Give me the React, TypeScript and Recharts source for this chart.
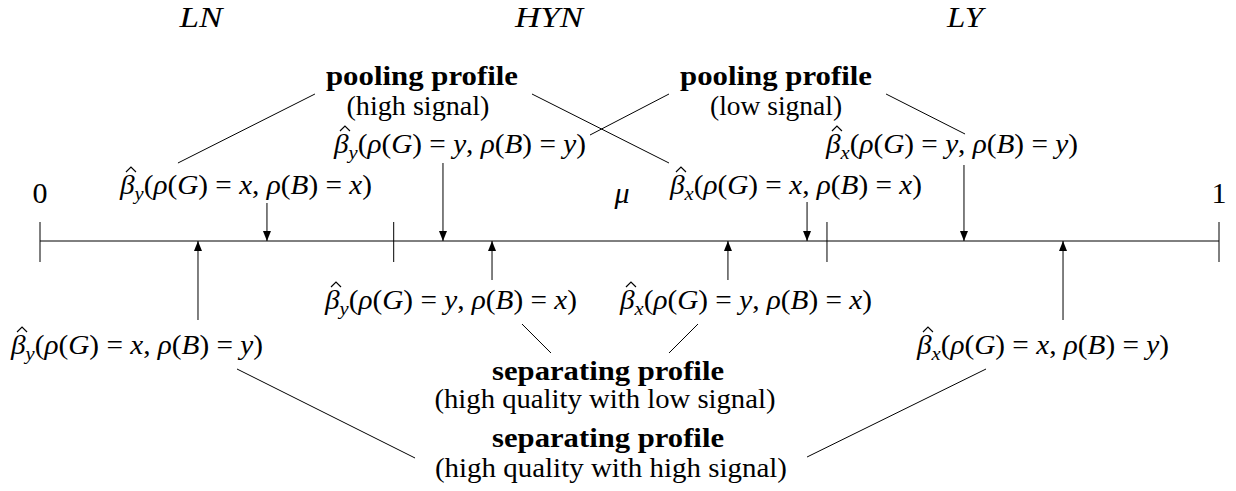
import React from 'react';
import { ComposedChart, XAxis, YAxis, Scatter, ReferenceLine } from 'recharts';

// x: position on the unit interval [0, 1]; y: height above the interval line
const intervalTicks = [0, 0.3, 0.6675, 1];

const endLabels = [
  { x: 0, y: 38, text: '0' },
  { x: 1, y: 38, text: '1' },
];

const muLabel = [{ x: 0.4936, y: 38, text: 'μ' }];

const regionLabels = [
  { x: 0.1366, y: 214, text: 'LN' },
  { x: 0.4317, y: 214, text: 'HYN' },
  { x: 0.7846, y: 214, text: 'LY' },
];

const downArrows = [
  { x: 0.1925, from: 38 },
  { x: 0.3418, from: 78 },
  { x: 0.6506, from: 39 },
  { x: 0.7837, from: 76 },
];

const upArrows = [
  { x: 0.134, from: -79 },
  { x: 0.3834, from: -39 },
  { x: 0.5835, from: -39 },
  { x: 0.8677, from: -79 },
];

const betaLabels = [
  { sub: 'y', g: 'x', b: 'x', x: 0.1747, y: 47 },
  { sub: 'y', g: 'y', b: 'y', x: 0.3562, y: 88 },
  { sub: 'x', g: 'x', b: 'x', x: 0.6412, y: 47 },
  { sub: 'x', g: 'y', b: 'y', x: 0.7735, y: 88 },
  { sub: 'y', g: 'y', b: 'x', x: 0.3486, y: -68 },
  { sub: 'x', g: 'y', b: 'x', x: 0.5988, y: -68 },
  { sub: 'y', g: 'x', b: 'y', x: 0.0823, y: -113 },
  { sub: 'x', g: 'x', b: 'y', x: 0.8507, y: -113 },
];

const profileLabels = [
  { x: 0.324, y: 156, text: 'pooling profile', bold: true },
  { x: 0.3206, y: 126, text: '(high signal)', bold: false },
  { x: 0.6243, y: 156, text: 'pooling profile', bold: true },
  { x: 0.6243, y: 126, text: '(low signal)', bold: false },
  { x: 0.4818, y: -139, text: 'separating profile', bold: true },
  { x: 0.4792, y: -167, text: '(high quality with low signal)', bold: false },
  { x: 0.4818, y: -206, text: 'separating profile', bold: true },
  { x: 0.4843, y: -236, text: '(high quality with high signal)', bold: false },
];

const connectors = [
  [{ x: 0.117, y: 78 }, { x: 0.2332, y: 147 }],
  [{ x: 0.4173, y: 147 }, { x: 0.5335, y: 78 }],
  [{ x: 0.5335, y: 147 }, { x: 0.4665, y: 106 }],
  [{ x: 0.7176, y: 147 }, { x: 0.7846, y: 107 }],
  [{ x: 0.4088, y: -83 }, { x: 0.4334, y: -112 }],
  [{ x: 0.5581, y: -83 }, { x: 0.5335, y: -112 }],
  [{ x: 0.1671, y: -128 }, { x: 0.3181, y: -217 }],
  [{ x: 0.8024, y: -128 }, { x: 0.6506, y: -216 }],
];

const SERIF = "'Liberation Serif', 'Times New Roman', serif";
const BETA_W = 252;

const textWidth: Record<string, number> = {
  'pooling profile': 192,
  '(high signal)': 143,
  '(low signal)': 132,
  'separating profile': 232,
  '(high quality with low signal)': 341,
  '(high quality with high signal)': 352,
  LN: 43,
  HYN: 68,
  LY: 36,
};

const ArrowHead = (props: any) => {
  const { cx, cy, payload } = props;
  const s = payload.dir === 'down' ? -1 : 1;
  return <path d={`M${cx},${cy} L${cx - 4},${cy + s * 10} L${cx + 4},${cy + s * 10} Z`} fill="#000" />;
};

const BetaText = (props: any) => {
  const { cx, cy, payload: d } = props;
  const left = cx - BETA_W / 2;
  return (
    <g>
      <text x={left} y={cy} textAnchor="start" fontFamily={SERIF} fontSize={27} fill="#000"
        textLength={BETA_W} lengthAdjust="spacingAndGlyphs">
        <tspan fontStyle="italic">β</tspan>
        <tspan fontStyle="italic" fontSize={19} dy={6}>{d.sub}</tspan>
        <tspan dy={-6}>(</tspan>
        <tspan fontStyle="italic">ρ</tspan>(<tspan fontStyle="italic">G</tspan>){' = '}
        <tspan fontStyle="italic">{d.g}</tspan>{', '}
        <tspan fontStyle="italic">ρ</tspan>(<tspan fontStyle="italic">B</tspan>){' = '}
        <tspan fontStyle="italic">{d.b}</tspan>)
      </text>
      <path d={`M${left + 6},${cy - 22} L${left + 11},${cy - 27} L${left + 16},${cy - 22}`}
        fill="none" stroke="#000" strokeWidth={1.2} />
    </g>
  );
};

const PlainText = (props: any) => {
  const { cx, cy, payload: d } = props;
  const w = textWidth[d.text];
  return (
    <text x={cx} y={cy} textAnchor="middle" fontFamily={SERIF} fontSize={w ? 27 : 30} fill="#000"
      fontWeight={d.bold ? 'bold' : 'normal'}
      {...(w ? { textLength: w, lengthAdjust: 'spacingAndGlyphs' } : {})}>
      {d.text}
    </text>
  );
};

const ItalicText = (props: any) => {
  const { cx, cy, payload: d } = props;
  const w = textWidth[d.text];
  return (
    <text x={cx} y={cy} textAnchor="middle" fontFamily={SERIF} fontSize={30} fontStyle="italic" fill="#000"
      {...(w ? { textLength: w, lengthAdjust: 'spacingAndGlyphs' } : {})}>
      {d.text}
    </text>
  );
};

const arrowHeads = [
  ...downArrows.map((a) => ({ x: a.x, y: 0, dir: 'down' })),
  ...upArrows.map((a) => ({ x: a.x, y: 0, dir: 'up' })),
];

export default function App() {
  return (
    <div style={{ width: 1236, height: 491, background: '#fff' }}>
      <style>{'body{margin:0}'}</style>
      <ComposedChart width={1236} height={491} margin={{ top: 0, right: 17, bottom: 0, left: 40 }}>
        <XAxis type="number" dataKey="x" domain={[0, 1]} hide height={0} />
        <YAxis type="number" dataKey="y" domain={[-250, 241]} hide width={0} />

        <ReferenceLine segment={[{ x: 0, y: 0 }, { x: 1, y: 0 }]} stroke="#000" strokeWidth={1} ifOverflow="visible" />
        {intervalTicks.map((t) => (
          <ReferenceLine key={`t${t}`} segment={[{ x: t, y: 19 }, { x: t, y: -21 }]} stroke="#000" strokeWidth={1} ifOverflow="visible" />
        ))}
        {[...downArrows, ...upArrows].map((a) => (
          <ReferenceLine key={`a${a.x}`} segment={[{ x: a.x, y: a.from }, { x: a.x, y: 0 }]} stroke="#000" strokeWidth={1} ifOverflow="visible" />
        ))}
        {connectors.map((c, i) => (
          <ReferenceLine key={`c${i}`} segment={c} stroke="#000" strokeWidth={1} ifOverflow="visible" />
        ))}

        <Scatter data={arrowHeads} shape={ArrowHead} isAnimationActive={false} />
        <Scatter data={endLabels} shape={PlainText} isAnimationActive={false} />
        <Scatter data={muLabel} shape={ItalicText} isAnimationActive={false} />
        <Scatter data={regionLabels} shape={ItalicText} isAnimationActive={false} />
        <Scatter data={betaLabels} shape={BetaText} isAnimationActive={false} />
        <Scatter data={profileLabels} shape={PlainText} isAnimationActive={false} />
      </ComposedChart>
    </div>
  );
}
